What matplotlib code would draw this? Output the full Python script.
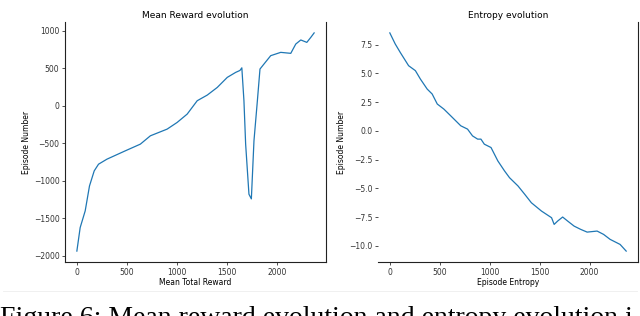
import matplotlib
matplotlib.use("Agg")
import matplotlib.pyplot as plt

# Left panel: Mean Reward evolution
reward_x = [0, 33, 83, 126, 173, 216, 300, 483, 633, 733, 900, 1000, 1100, 1200,
            1300, 1400, 1500, 1583, 1626, 1645, 1666, 1683, 1716, 1740, 1766, 1800,
            1826, 1866, 1933, 2033, 2133, 2183, 2233, 2293, 2333, 2366]
reward_y = [-1935, -1622, -1400, -1067, -867, -778, -711, -600, -511, -400, -311,
            -222, -111, 67, 142, 244, 378, 444, 470, 505, 67, -511, -1178, -1240,
            -467, 67, 489, 556, 667, 711, 698, 822, 876, 844, 911, 970]

# Right panel: Entropy evolution
entropy_x = [0, 54, 104, 188, 256, 306, 374, 424, 475, 541, 609, 710, 778, 828,
             879, 912, 946, 1013, 1081, 1148, 1198, 1283, 1350, 1417, 1518, 1619,
             1645, 1680, 1730, 1780, 1845, 1910, 1975, 2075, 2140, 2205, 2305, 2366]
entropy_y = [8.51, 7.55, 6.82, 5.66, 5.23, 4.5, 3.63, 3.2, 2.33, 1.89, 1.31, 0.44,
             0.15, -0.44, -0.72, -0.72, -1.16, -1.45, -2.61, -3.48, -4.07, -4.79,
             -5.51, -6.25, -6.97, -7.55, -8.13, -7.84, -7.49, -7.84, -8.28, -8.56,
             -8.8, -8.71, -9.0, -9.43, -9.87, -10.45]

caption = "Figure 6: Mean reward evolution and entropy evolution i"

W, H = 640, 316
fig = plt.figure(figsize=(W / 100, H / 100), dpi=100)
fig.patch.set_facecolor("white")

def box(x0, y0, x1, y1):
    return [x0 / W, 1 - y1 / H, (x1 - x0) / W, (y1 - y0) / H]

line_color = "#1f77b4"
tick_fs = 5.5
label_fs = 5.5
title_fs = 6.5

ax1 = fig.add_axes(box(65, 22, 326, 262))
ax1.plot(reward_x, reward_y, color=line_color, lw=0.9)
ax1.set_xticks([0, 500, 1000, 1500, 2000])
ax1.set_yticks([-2000, -1500, -1000, -500, 0, 500, 1000])
ax1.set_title("Mean Reward evolution", fontsize=title_fs, pad=3)
ax1.set_xlabel("Mean Total Reward", fontsize=label_fs, labelpad=1)
ax1.set_ylabel("Episode Number", fontsize=label_fs, labelpad=2)
ax1.spines["top"].set_visible(False)

ax2 = fig.add_axes(box(378, 22, 638, 262))
ax2.plot(entropy_x, entropy_y, color=line_color, lw=0.9)
ax2.set_xticks([0, 500, 1000, 1500, 2000])
ax2.set_yticks([-10.0, -7.5, -5.0, -2.5, 0.0, 2.5, 5.0, 7.5])
ax2.set_title("Entropy evolution", fontsize=title_fs, pad=3)
ax2.set_xlabel("Episode Entropy", fontsize=label_fs, labelpad=1)
ax2.set_ylabel("Episode Number", fontsize=label_fs, labelpad=2)
ax2.spines["top"].set_visible(False)
ax2.spines["left"].set_visible(False)

for ax in (ax1, ax2):
    ax.tick_params(labelsize=tick_fs, length=2.5, width=0.6, pad=1.5, colors="#333333")
    for s in ax.spines.values():
        s.set_linewidth(0.8)
        s.set_color("#222222")

fig.add_artist(plt.Line2D([0.005, 0.995], [1 - 291 / H, 1 - 291 / H],
                          color="#eeeeee", lw=0.6, transform=fig.transFigure))

fig.text(0.0, 1 - 306 / H, caption, family="Liberation Serif", fontsize=20,
         va="top", ha="left", color="black")

fig.savefig("out.png", dpi=100, facecolor="white")
